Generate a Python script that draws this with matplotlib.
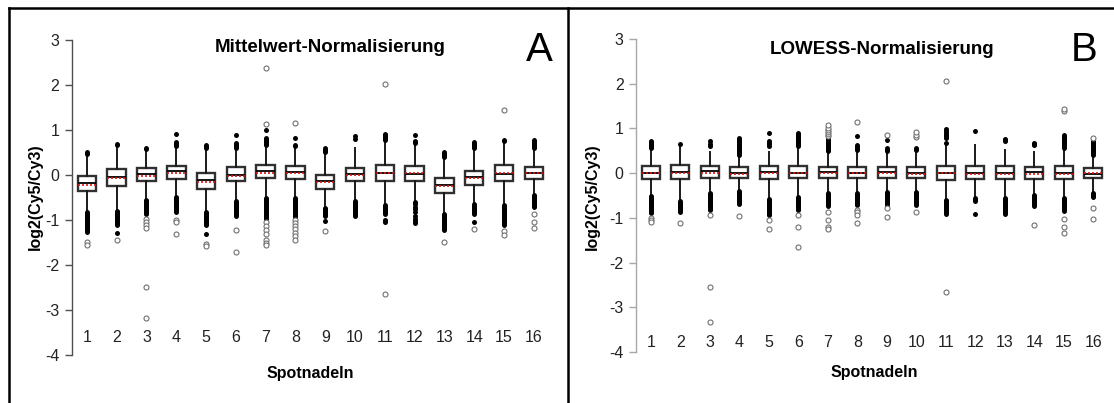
"""Box plots of log2(Cy5/Cy3) per spotting pin, before/after LOWESS."""

import matplotlib

matplotlib.use("Agg")

import matplotlib.pyplot as plt
from matplotlib.lines import Line2D

plt.rcParams["font.family"] = ["Liberation Sans", "DejaVu Sans"]
plt.rcParams["axes.unicode_minus"] = False

PINS = [str(i) for i in range(1, 17)]

# --- Mittelwert-Normalisierung -------------------------------------------
A_Q1 = [-0.35, -0.24, -0.14, -0.08, -0.31, -0.14, -0.07, -0.09,
        -0.30, -0.14, -0.13, -0.13, -0.40, -0.21, -0.13, -0.08]
A_MED = [-0.17, -0.05, 0.03, 0.10, -0.10, 0.01, 0.10, 0.07,
         -0.13, 0.02, 0.04, 0.02, -0.21, -0.04, 0.02, 0.05]
A_Q3 = [-0.01, 0.13, 0.15, 0.21, 0.04, 0.17, 0.22, 0.21,
        0.01, 0.16, 0.22, 0.20, -0.07, 0.10, 0.22, 0.19]
A_MEAN = [-0.21, -0.07, -0.02, 0.05, -0.15, -0.01, 0.05, 0.04,
          -0.16, 0.01, 0.04, 0.04, -0.24, -0.07, 0.04, 0.04]
A_UP_WHISK = [0.46, 0.66, 0.58, 0.64, 0.60, 0.61, 0.67, 0.64,
              0.51, 0.61, 0.79, 0.72, 0.41, 0.60, 0.75, 0.60]
A_UP_DOTS = [0.51, 0.70, 0.61, 0.73, 0.67, 0.71, 0.82, 0.67,
             0.61, 0.61, 0.91, 0.75, 0.52, 0.73, 0.79, 0.79]
A_LO_WHISK = [-0.82, -0.79, -0.56, -0.49, -0.82, -0.58, -0.51, -0.52,
              -0.73, -0.57, -0.67, -0.60, -0.86, -0.64, -0.66, -0.45]
A_LO_DOTS = [-1.27, -1.10, -0.86, -0.82, -1.11, -0.90, -0.97, -0.94,
             -0.91, -0.90, -0.86, -0.64, -1.22, -0.86, -1.10, -0.71]
A_FILLED = [[], [-1.28], [], [0.92], [-1.31], [0.88], [1.00], [0.82],
            [-1.03], [0.80, 0.86], [-1.01, -1.05],
            [0.88, -0.70, -0.76, -0.83, -0.90, -0.97, -1.03, -1.07],
            [], [-1.05], [], []]
A_OPEN = [[-1.48, -1.56], [-1.45], [-0.97, -1.04, -1.10, -1.18, -2.49, -3.17],
          [-0.99, -1.05, -1.30], [-1.54, -1.57], [-1.22, -1.71],
          [1.13, 2.37, -1.05, -1.13, -1.22, -1.32, -1.45, -1.50, -1.56],
          [1.15, -0.99, -1.06, -1.13, -1.20, -1.28, -1.36, -1.44],
          [-1.24], [], [2.02, -2.64], [], [-1.48], [-1.21],
          [1.44, -1.24, -1.33], [-0.86, -1.05, -1.18]]

# --- LOWESS-Normalisierung -----------------------------------------------
B_Q1 = [-0.13, -0.14, -0.10, -0.10, -0.14, -0.11, -0.11, -0.10,
        -0.10, -0.11, -0.16, -0.13, -0.13, -0.13, -0.14, -0.11]
B_MED = [0.01, 0.02, 0.04, 0.01, 0.02, 0.01, 0.02, 0.01,
         0.03, 0.01, 0.00, 0.01, 0.01, 0.02, 0.00, -0.01]
B_Q3 = [0.16, 0.19, 0.15, 0.13, 0.16, 0.16, 0.13, 0.14,
        0.13, 0.13, 0.17, 0.16, 0.17, 0.13, 0.16, 0.11]
B_MEAN = [0.00, 0.01, 0.00, -0.01, 0.01, 0.00, 0.00, 0.01,
          0.01, -0.01, 0.00, -0.01, -0.01, -0.01, -0.01, 0.00]
B_UP_WHISK = [0.57, 0.66, 0.48, 0.41, 0.48, 0.60, 0.50, 0.52,
              0.50, 0.52, 0.67, 0.63, 0.52, 0.47, 0.57, 0.41]
B_UP_DOTS = [0.72, 0.66, 0.48, 0.78, 0.48, 0.89, 0.78, 0.63,
             0.56, 0.56, 0.67, 0.63, 0.52, 0.47, 0.86, 0.71]
B_LO_WHISK = [-0.52, -0.62, -0.45, -0.41, -0.57, -0.54, -0.45, -0.45,
              -0.42, -0.42, -0.60, -0.56, -0.56, -0.48, -0.56, -0.45]
B_LO_DOTS = [-0.89, -0.87, -0.82, -0.69, -0.94, -0.82, -0.74, -0.71,
             -0.71, -0.71, -0.92, -0.62, -0.92, -0.74, -0.84, -0.54]
B_FILLED = [[], [0.66], [0.60, 0.65, 0.72], [], [0.60, 0.64, 0.68, 0.71, 0.89],
            [], [], [0.82], [0.74], [],
            [0.67, 0.78, 0.82, 0.86, 0.90, 0.94, 0.98], [0.95, -0.92],
            [0.71, 0.74, 0.76], [0.62, 0.65, 0.68], [], []]
B_OPEN = [[-1.00, -1.05, -1.10], [-1.12], [-0.94, -2.55, -3.33], [-0.97],
          [-1.05, -1.24], [-0.93, -1.20, -1.65],
          [0.82, 0.87, 0.92, 0.97, 1.02, 1.08, -0.88, -1.04, -1.21, -1.26],
          [1.15, -0.82, -0.88, -0.93, -1.12], [0.86, -0.78, -0.98],
          [0.80, 0.86, 0.92, -0.86], [2.07, -2.66], [], [], [-1.17],
          [1.40, 1.44, -1.02, -1.20, -1.34], [0.78, -0.77, -1.02]]


def draw_panel(ax, q1, med, q3, mean, up_whisk, up_dots, lo_whisk, lo_dots,
               filled, open_pts, spine_color, label_y):
    positions = list(range(1, len(PINS) + 1))
    stats = [
        dict(q1=q1[i], med=med[i], q3=q3[i], mean=mean[i],
             whislo=lo_whisk[i], whishi=up_whisk[i], fliers=[])
        for i in range(len(PINS))
    ]
    ax.bxp(
        stats, positions=positions, widths=0.62, showcaps=False,
        showfliers=False, showmeans=True, meanline=True, patch_artist=True,
        boxprops=dict(facecolor="white", edgecolor="#303030", linewidth=1.7),
        medianprops=dict(color="black", linewidth=1.3),
        meanprops=dict(color="#e01010", linestyle=(0, (1.2, 1.2)), linewidth=1.2),
        whiskerprops=dict(color="#1a1a1a", linewidth=1.4),
    )

    # dense runs of outliers just beyond the whiskers
    for x, w, d in zip(positions, up_whisk, up_dots):
        if d > w:
            ax.plot([x, x], [w, d], color="black", linewidth=3.6,
                    solid_capstyle="round", zorder=4)
    for x, w, d in zip(positions, lo_whisk, lo_dots):
        if d < w:
            ax.plot([x, x], [w, d], color="black", linewidth=3.6,
                    solid_capstyle="round", zorder=4)

    for x, vals in zip(positions, filled):
        if vals:
            ax.plot([x] * len(vals), vals, "o", color="black", markersize=3.6,
                    markeredgewidth=0, zorder=4)
    for x, vals in zip(positions, open_pts):
        if vals:
            ax.plot([x] * len(vals), vals, "o", markerfacecolor="white",
                    markeredgecolor="#707070", markersize=3.6,
                    markeredgewidth=0.8, zorder=4)

    for x, name in zip(positions, PINS):
        ax.text(x, label_y, name, ha="center", va="center", fontsize=11.5,
                color="#222222")

    ax.set_xlim(0.5, 16.5)
    ax.set_ylim(-4, 3)
    ax.set_yticks(range(-4, 4))
    ax.set_xticks([])
    for side in ("top", "right", "bottom"):
        ax.spines[side].set_visible(False)
    ax.spines["left"].set_color(spine_color)
    ax.spines["left"].set_linewidth(1.0)
    ax.tick_params(axis="y", direction="out", length=5, width=1.0,
                   color=spine_color, labelsize=11.5, labelcolor="#222222", pad=4)
    ax.patch.set_visible(False)


fig = plt.figure(figsize=(11.14, 4.03), dpi=100)
ax_a = fig.add_axes([0.0646, 0.119, 0.428, 0.7816])
ax_b = fig.add_axes([0.571, 0.1266, 0.4237, 0.7767])

draw_panel(ax_a, A_Q1, A_MED, A_Q3, A_MEAN, A_UP_WHISK, A_UP_DOTS,
           A_LO_WHISK, A_LO_DOTS, A_FILLED, A_OPEN, "#505050", -3.6)
draw_panel(ax_b, B_Q1, B_MED, B_Q3, B_MEAN, B_UP_WHISK, B_UP_DOTS,
           B_LO_WHISK, B_LO_DOTS, B_FILLED, B_OPEN, "#a8a8a8", -3.78)

fig.text(0.2962, 0.881, "Mittelwert-Normalisierung", ha="center", va="center",
         fontsize=13.5, fontweight="bold")
fig.text(0.7917, 0.878, "LOWESS-Normalisierung", ha="center", va="center",
         fontsize=13.5, fontweight="bold")
fig.text(0.4838, 0.876, "A", ha="center", va="center", fontsize=29)
fig.text(0.973, 0.876, "B", ha="center", va="center", fontsize=29)

for x in (0.0314, 0.5314):
    fig.text(x, 0.5124, "log2(Cy5/Cy3)", ha="center", va="center",
             rotation=90, fontsize=11.5, fontweight="bold")
fig.text(0.2783, 0.0744, "Spotnadeln", ha="center", va="center",
         fontsize=11.5, fontweight="bold")
fig.text(0.7846, 0.0769, "Spotnadeln", ha="center", va="center",
         fontsize=11.5, fontweight="bold")

# panel frame
frame = dict(color="black", linewidth=1.8, transform=fig.transFigure)
fig.add_artist(Line2D([0.008, 1.0], [0.980, 0.980], **frame))
fig.add_artist(Line2D([0.008, 0.008], [0.0, 0.980], **frame))
fig.add_artist(Line2D([0.5099, 0.5099], [0.0, 0.980], **frame))

fig.savefig("out.png", dpi=100, facecolor="white")
plt.close(fig)
